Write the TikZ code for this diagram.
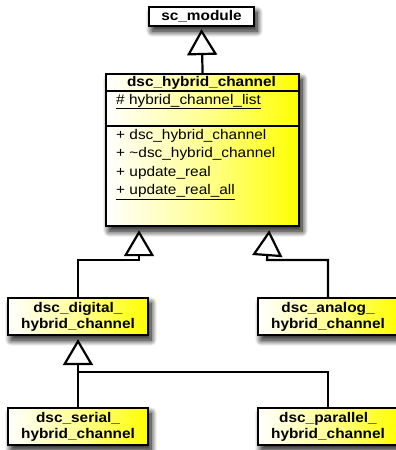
\documentclass[tikz,border=0pt]{standalone}
\usepackage{fontspec}
\setmainfont{Liberation Sans}[FakeStretch=1.1]
\usetikzlibrary{arrows.meta,shadows.blur,calc}

\tikzset{
  % two stacked blurred shadows give a deeper drop shadow
  boxshadow/.style={
      blur shadow={shadow xshift=4pt, shadow yshift=-7pt,
      shadow blur radius=10pt, shadow blur steps=14, shadow opacity=100},
      blur shadow={shadow xshift=3pt, shadow yshift=-5pt,
      shadow blur radius=6pt, shadow blur steps=10, shadow opacity=60}},
  rootbox/.style={draw=black, line width=2.2pt, rectangle, inner sep=0pt,
      fill=white, boxshadow},
  classbox/.style={draw=black, line width=2.2pt, rectangle, inner sep=0pt,
      left color=white, right color=yellow, middle color=yellow!42, boxshadow},
  leafbox/.style={classbox, minimum width=140pt, minimum height=37pt,
      align=center, font=\fontsize{14}{16}\selectfont\bfseries},
  member/.style={anchor=base west, inner sep=0pt, font=\fontsize{14}{16}\selectfont},
  sepline/.style={line width=2.2pt},
  inh/.style={line width=2.2pt,
      -{Triangle[width=30pt, length=26pt, fill=white, line join=miter]}},
  link/.style={line width=2.2pt}
}

\begin{document}
\begin{tikzpicture}[x=1pt, y=-1pt]
  \useasboundingbox (0,0) rectangle (396,450);
  \clip (0,0) rectangle (396,450);

  % base class
  \node[rootbox, minimum width=105pt, minimum height=19pt,
        font=\fontsize{14}{16}\selectfont\bfseries] (sc) at (201.5,16.5) {sc\_module};

  % hybrid channel class with its compartments
  \node[classbox, minimum width=193pt, minimum height=152pt, anchor=north west]
        (hc) at (105,73) {};
  \coordinate (s1) at (0,91);
  \coordinate (s2) at (0,126);
  \draw[sepline] (hc.west |- s1) -- (hc.east |- s1);
  \draw[sepline] (hc.west |- s2) -- (hc.east |- s2);
  \node[anchor=base, inner sep=0pt, font=\fontsize{14}{16}\selectfont\bfseries]
        (hcname) at (201.5,86) {dsc\_hybrid\_channel};
  \node[member] (attr) at (116,104) {\underline{\# hybrid\_channel\_list}};
  \node[member] (m1) at (116,139) {+ dsc\_hybrid\_channel};
  \node[member] (m2) at (116,157.5) {+ \textasciitilde dsc\_hybrid\_channel};
  \node[member] (m3) at (116,176) {+ update\_real};
  \node[member] (m4) at (116,194.5) {\underline{+ update\_real\_all}};

  % derived classes
  \node[leafbox] (dig) at (78,316.5) {dsc\_digital\_\\hybrid\_channel};
  \node[leafbox] (ana) at (328,316.5) {dsc\_analog\_\\hybrid\_channel};
  \node[leafbox] (ser) at (78,426.5) {dsc\_serial\_\\hybrid\_channel};
  \node[leafbox] (par) at (328,426.5) {dsc\_parallel\_\\hybrid\_channel};

  % inheritance connectors
  \draw[inh] (hc.north) -- ($(sc.south)+(0,2)$);

  \coordinate (tl) at ($(hc.south west)+(34,3)$);
  \coordinate (jl) at (139,260);
  \draw[inh] (dig.north) |- (jl) -- (tl);

  \coordinate (tr) at ($(hc.south east)+(-31,3)$);
  \coordinate (jr) at (267,260);
  \draw[inh] (ana.north) |- (jr) -- (tr);

  \coordinate (jb) at (78,372);
  \draw[inh] (ser.north) -- ($(dig.south)+(0,3)$);
  \draw[link] (par.north) |- (jb);
\end{tikzpicture}
\end{document}
